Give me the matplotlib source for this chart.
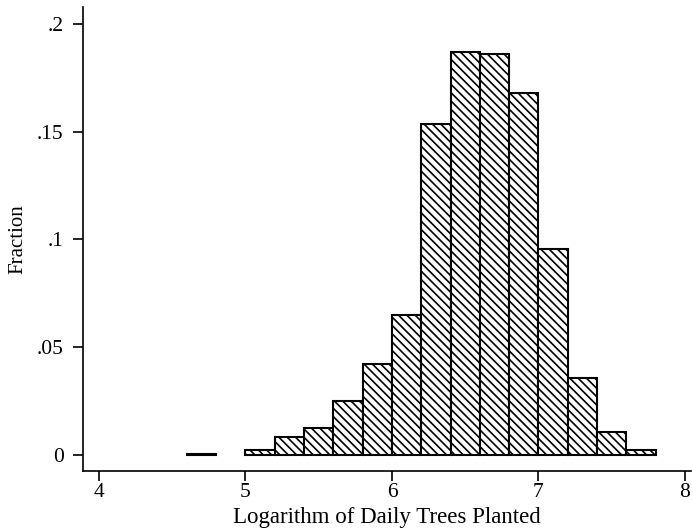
import numpy as np
import matplotlib.pyplot as plt

plt.rcParams['font.family'] = ['Liberation Serif', 'DejaVu Serif']
plt.rcParams['hatch.linewidth'] = 1.2

# histogram of log daily trees planted, bins of width 0.2
bin_left = [4.6, 4.8, 5.0, 5.2, 5.4, 5.6, 5.8, 6.0, 6.2, 6.4, 6.6, 6.8, 7.0, 7.2, 7.4, 7.6]
fraction = [0.0004, 0.0, 0.0023, 0.0084, 0.0125, 0.025, 0.042, 0.065,
            0.1535, 0.187, 0.186, 0.168, 0.0956, 0.0357, 0.0107, 0.0023]
bin_width = 0.2

xticks = [4, 5, 6, 7, 8]
yticks = [0, 0.05, 0.1, 0.15, 0.2]
ytick_labels = ['0', '.05', '.1', '.15', '.2']

fig = plt.figure(figsize=(6.92, 5.32), dpi=100)
ax = fig.add_axes([0.1199, 0.1147, 0.8786, 0.8722])

for x, h in zip(bin_left, fraction):
    if h <= 0:
        continue
    ax.bar(x, h, width=bin_width, align='edge', facecolor='white',
           edgecolor='black', linewidth=1.5, hatch='\\\\\\\\')

ax.set_xlim(3.891, 8.041)
ax.set_ylim(-0.00742, 0.2079)

ax.spines['top'].set_visible(False)
ax.spines['right'].set_visible(False)
ax.spines['left'].set_linewidth(1.2)
ax.spines['bottom'].set_linewidth(1.2)

ax.set_xticks(xticks)
ax.set_xticklabels([str(t) for t in xticks])
ax.set_yticks(yticks)
ax.set_yticklabels(ytick_labels)
ax.tick_params(axis='both', direction='out', length=7, width=1.2, labelsize=15.5)
ax.tick_params(axis='x', pad=2)
ax.tick_params(axis='y', pad=7)

ax.set_xlabel('Logarithm of Daily Trees Planted', fontsize=16.5, labelpad=3)
ax.set_ylabel('Fraction', fontsize=15, labelpad=7)

fig.savefig('out.png', dpi=100)
